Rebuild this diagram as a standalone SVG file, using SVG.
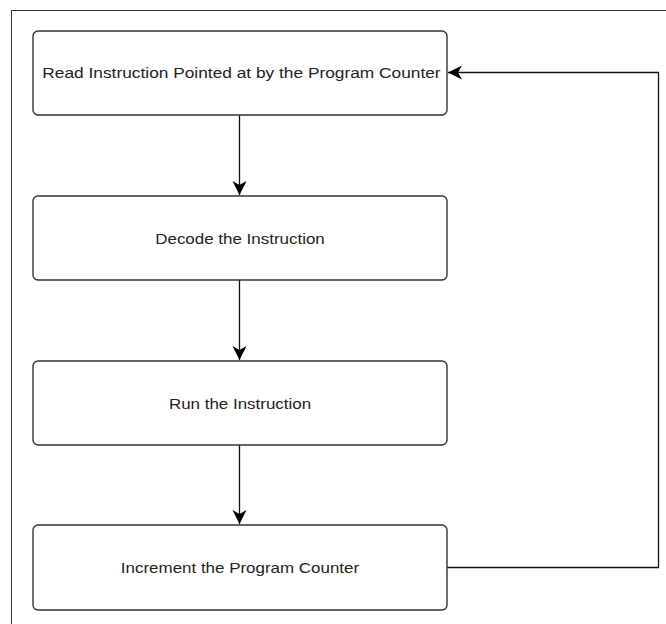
<svg xmlns="http://www.w3.org/2000/svg" width="666" height="624" viewBox="0 0 666 624">
<style>
.box{fill:#fff;stroke:#333;stroke-width:1.4}
.lbl{font-family:"Liberation Sans",Arial,sans-serif;font-size:15px;fill:#222;text-anchor:middle}
.edge{fill:none;stroke:#111;stroke-width:1.3}
</style>
<defs>
<marker id="arr" markerUnits="userSpaceOnUse" markerWidth="16" markerHeight="15" viewBox="0 0 16 15" refX="14" refY="7.5" orient="auto">
<path d="M0,0.5 L14,7.5 L0,14.5 L4,7.5 Z" fill="#000"/>
</marker>
</defs>
<rect width="666" height="624" fill="#fff"/>
<rect x="11.5" y="10.5" width="700" height="700" fill="none" stroke="#333" stroke-width="1"/>
<g id="connectors">
<path class="edge" d="M239.5,115 V195" marker-end="url(#arr)"/>
<path class="edge" d="M239.5,280 V360" marker-end="url(#arr)"/>
<path class="edge" d="M239.5,445 V524" marker-end="url(#arr)"/>
<path class="edge" d="M447,567.5 H658.5 V72.5 H448" marker-end="url(#arr)"/>
</g>
<g id="read">
<rect class="box" x="33" y="31" width="414" height="84" rx="5"/>
<text class="lbl" transform="translate(241.5,78) scale(1.155,1)">Read Instruction Pointed at by the Program Counter</text>
</g>
<g id="decode">
<rect class="box" x="33" y="196" width="414" height="84" rx="5"/>
<text class="lbl" transform="translate(240,243.5) scale(1.13,1)">Decode the Instruction</text>
</g>
<g id="run">
<rect class="box" x="33" y="361" width="414" height="84" rx="5"/>
<text class="lbl" transform="translate(240,408.5) scale(1.13,1)">Run the Instruction</text>
</g>
<g id="increment">
<rect class="box" x="33" y="525" width="414" height="85" rx="5"/>
<text class="lbl" transform="translate(240,573) scale(1.13,1)">Increment the Program Counter</text>
</g>
</svg>
